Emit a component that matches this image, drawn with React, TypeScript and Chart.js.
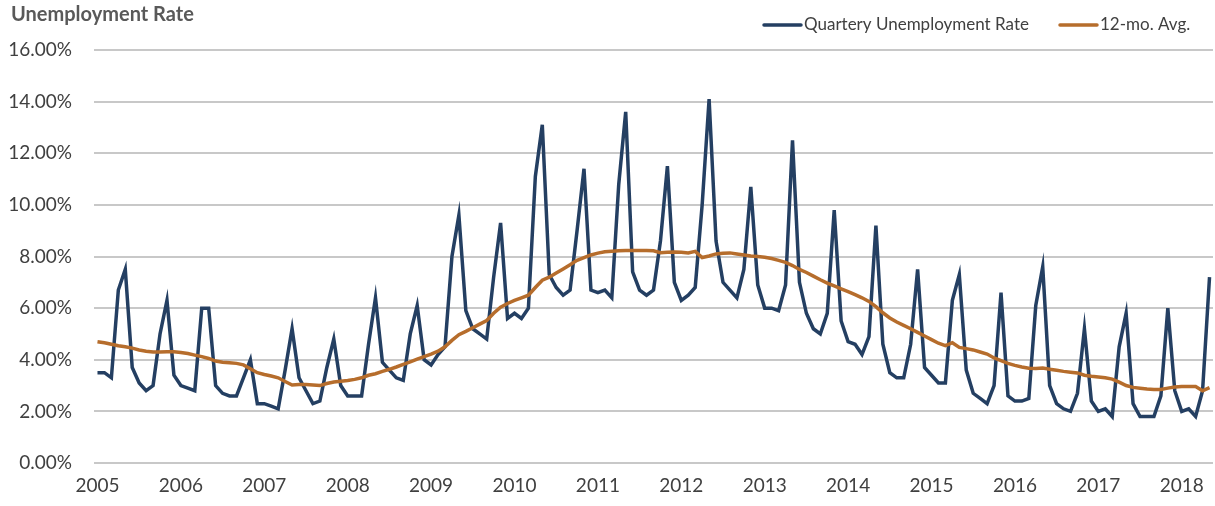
import React, { useEffect, useRef } from "react";
import { Chart, registerables } from "chart.js";

Chart.register(...registerables);

const YEARS = [2005, 2006, 2007, 2008, 2009, 2010, 2011, 2012, 2013, 2014, 2015, 2016, 2017, 2018];
const MONTHS = ["Jan", "Feb", "Mar", "Apr", "May", "Jun", "Jul", "Aug", "Sep", "Oct", "Nov", "Dec"];
const LAST_MONTH_2018 = 5; // Jan..May 2018

const Y_TICKS = [0, 2, 4, 6, 8, 10, 12, 14, 16];

const QUARTERLY_RATE = [
  3.5, 3.5, 3.3, 6.7, 7.5, 3.7, 3.1, 2.8, 3.0, 5.0, 6.3, 3.4,
  3.0, 2.9, 2.8, 6.0, 6.0, 3.0, 2.7, 2.6, 2.6, 3.3, 4.0, 2.3,
  2.3, 2.2, 2.1, 3.6, 5.2, 3.3, 2.8, 2.3, 2.4, 3.7, 4.8, 3.0,
  2.6, 2.6, 2.6, 4.6, 6.4, 3.9, 3.6, 3.3, 3.2, 5.0, 6.1, 4.0,
  3.8, 4.2, 4.5, 8.0, 9.6, 5.9, 5.2, 5.0, 4.8, 7.2, 9.3, 5.6,
  5.8, 5.6, 6.0, 11.1, 13.1, 7.3, 6.8, 6.5, 6.7, 9.0, 11.4, 6.7,
  6.6, 6.7, 6.4, 10.8, 13.6, 7.4, 6.7, 6.5, 6.7, 8.6, 11.5, 7.0,
  6.3, 6.5, 6.8, 10.0, 14.1, 8.6, 7.0, 6.7, 6.4, 7.5, 10.7, 6.9,
  6.0, 6.0, 5.9, 6.9, 12.5, 7.0, 5.8, 5.2, 5.0, 5.8, 9.8, 5.5,
  4.7, 4.6, 4.2, 4.9, 9.2, 4.6, 3.5, 3.3, 3.3, 4.6, 7.5, 3.7,
  3.4, 3.1, 3.1, 6.3, 7.3, 3.6, 2.7, 2.5, 2.3, 3.0, 6.6, 2.6,
  2.4, 2.4, 2.5, 6.1, 7.6, 3.0, 2.3, 2.1, 2.0, 2.7, 5.2, 2.4,
  2.0, 2.1, 1.8, 4.5, 5.8, 2.3, 1.8, 1.8, 1.8, 2.6, 6.0, 2.8,
  2.0, 2.1, 1.8, 2.8, 7.2,
];

const AVG_12MO = [
  4.70, 4.66, 4.60, 4.54, 4.50, 4.45, 4.38, 4.33, 4.30, 4.30, 4.31, 4.31,
  4.28, 4.24, 4.18, 4.12, 4.05, 3.95, 3.90, 3.88, 3.86, 3.80, 3.65, 3.50,
  3.43, 3.37, 3.30, 3.16, 3.02, 3.04, 3.04, 3.02, 3.00, 3.08, 3.14, 3.17,
  3.20, 3.24, 3.30, 3.40, 3.46, 3.55, 3.63, 3.72, 3.82, 3.92, 4.02, 4.12,
  4.22, 4.33, 4.50, 4.75, 4.97, 5.10, 5.24, 5.38, 5.52, 5.80, 6.04, 6.18,
  6.30, 6.40, 6.50, 6.80, 7.08, 7.20, 7.36, 7.52, 7.68, 7.85, 7.96, 8.06,
  8.13, 8.18, 8.20, 8.22, 8.23, 8.23, 8.23, 8.23, 8.22, 8.15, 8.16, 8.17,
  8.16, 8.14, 8.20, 7.96, 8.02, 8.10, 8.13, 8.14, 8.10, 8.06, 8.02, 8.00,
  7.97, 7.92, 7.85, 7.77, 7.65, 7.50, 7.38, 7.24, 7.10, 6.97, 6.86, 6.75,
  6.64, 6.52, 6.40, 6.26, 6.06, 5.82, 5.62, 5.46, 5.33, 5.20, 5.06, 4.92,
  4.78, 4.64, 4.55, 4.66, 4.48, 4.43, 4.38, 4.30, 4.22, 4.07, 3.97, 3.86,
  3.78, 3.72, 3.67, 3.66, 3.68, 3.63, 3.59, 3.55, 3.52, 3.49, 3.40, 3.36,
  3.33, 3.30, 3.25, 3.13, 3.00, 2.93, 2.90, 2.87, 2.85, 2.85, 2.90, 2.94,
  2.96, 2.96, 2.96, 2.80, 2.92,
];

const TITLE = "Unemployment Rate";
const SERIES_NAMES = ["Quartery Unemployment Rate", "12-mo. Avg."];
const BLUE = "#243F62";
const ORANGE = "#B66D2C";
const FONT = "Lato, 'Open Sans', sans-serif";

function buildLabels(): string[] {
  const out: string[] = [];
  YEARS.forEach((y) => {
    MONTHS.forEach((m, mi) => {
      if (y === YEARS[YEARS.length - 1] && mi >= LAST_MONTH_2018) return;
      out.push(m + " " + y);
    });
  });
  return out;
}

const headerPlugin = {
  id: "header",
  afterDraw(chart: any) {
    const ctx = chart.ctx;
    ctx.save();
    ctx.textBaseline = "middle";
    ctx.textAlign = "left";
    ctx.fillStyle = "#595959";
    ctx.font = "bold 20px " + FONT;
    ctx.fillText(TITLE, 11, 15);

    ctx.font = "17px " + FONT;
    ctx.fillStyle = "#404040";
    const items = [
      { name: SERIES_NAMES[0], color: BLUE, x: 764 },
      { name: SERIES_NAMES[1], color: ORANGE, x: 1060 },
    ];
    items.forEach((it) => {
      ctx.strokeStyle = it.color;
      ctx.lineWidth = 3.5;
      ctx.lineCap = "round";
      ctx.beginPath();
      ctx.moveTo(it.x, 25);
      ctx.lineTo(it.x + 37, 25);
      ctx.stroke();
      ctx.fillText(it.name, it.x + 40, 25);
    });
    ctx.restore();
  },
};

export default function App() {
  const ref = useRef<HTMLCanvasElement | null>(null);
  useEffect(() => {
    if (!ref.current) return;
    const labels = buildLabels();
    const chart = new Chart(ref.current, {
      type: "line",
      data: {
        labels,
        datasets: [
          {
            label: SERIES_NAMES[0],
            data: QUARTERLY_RATE,
            borderColor: BLUE,
            backgroundColor: BLUE,
            borderWidth: 3.5,
            pointRadius: 0,
            tension: 0,
            order: 2,
          },
          {
            label: SERIES_NAMES[1],
            data: AVG_12MO,
            borderColor: ORANGE,
            backgroundColor: ORANGE,
            borderWidth: 3.5,
            pointRadius: 0,
            tension: 0,
            order: 1,
          },
        ],
      },
      options: {
        animation: false,
        responsive: true,
        maintainAspectRatio: false,
        layout: { padding: { top: 50, right: 2, left: 0, bottom: 0 } },
        plugins: {
          legend: { display: false },
          title: { display: false },
          tooltip: { enabled: false },
        },
        scales: {
          x: {
            type: "category",
            offset: true,
            grid: { display: false, drawTicks: false },
            border: { display: false },
            ticks: {
              autoSkip: false,
              maxRotation: 0,
              minRotation: 0,
              padding: 11,
              color: "#404040",
              font: { family: FONT, size: 19 },
              callback: (_v: any, i: number) => (i % 12 === 0 ? labels[i].split(" ")[1] : ""),
            },
            afterFit: (s: any) => {
              s.height = 43;
              s.paddingLeft = 0;
              s.paddingRight = 0;
            },
          },
          y: {
            min: Y_TICKS[0],
            max: Y_TICKS[Y_TICKS.length - 1],
            grid: { color: "#C8C8C8", lineWidth: 2, drawTicks: false },
            border: { display: false },
            ticks: {
              stepSize: 2,
              padding: 22,
              color: "#404040",
              font: { family: FONT, size: 19 },
              callback: (v: any) => Number(v).toFixed(2) + "%",
            },
            afterFit: (s: any) => {
              s.width = 94;
            },
          },
        },
      },
      plugins: [headerPlugin],
    });
    return () => chart.destroy();
  }, []);
  return (
    <div style={{ position: "absolute", left: 0, top: 0, width: 1215, height: 506, background: "#fff" }}>
      <canvas ref={ref} />
    </div>
  );
}
